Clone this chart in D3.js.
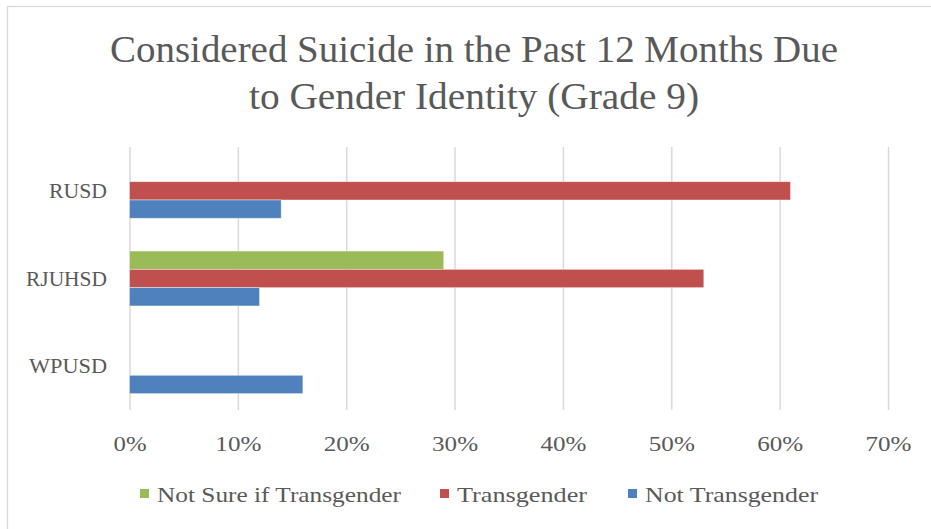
<!DOCTYPE html>
<html>
<head>
<meta charset="utf-8">
<script src="https://cdn.jsdelivr.net/npm/d3@7"></script>
<style>
  html, body { margin: 0; padding: 0; background: #ffffff; }
  svg { display: block; }
  text { font-family: "Liberation Serif", "DejaVu Serif", serif; fill: #595959; }
</style>
</head>
<body>
<svg id="chart" width="931" height="529"></svg>
<script>
const titleLines = ["Considered Suicide in the Past 12 Months Due", "to Gender Identity (Grade 9)"];
const categories = ["RUSD", "RJUHSD", "WPUSD"];
const seriesNames = ["Not Sure if Transgender", "Transgender", "Not Transgender"];
const seriesColors = ["#9BBB59", "#C0504D", "#4F81BD"];
const notSureValues = [null, 0.29, null];
const transgenderValues = [0.61, 0.53, null];
const notTransgenderValues = [0.14, 0.12, 0.16];
const tickValues = [0, 0.1, 0.2, 0.3, 0.4, 0.5, 0.6, 0.7];

const seriesValues = [notSureValues, transgenderValues, notTransgenderValues];

const svg = d3.select("#chart");
const W = 931, H = 529;

// Fit a text element to a target width (emulating the wider original font)
function fit(sel, w) {
  sel.attr("textLength", w).attr("lengthAdjust", "spacingAndGlyphs");
}

svg.append("rect").attr("x", 0).attr("y", 0).attr("width", W).attr("height", H).attr("fill", "#fff");
svg.append("rect").attr("x", 7.5).attr("y", 6.5).attr("width", W + 10).attr("height", H + 10)
  .attr("fill", "none").attr("stroke", "#d9d9d9").attr("stroke-width", 1.3);

// Title
const titleWidths = [728, 450];
const titleY = [62, 109];
titleLines.forEach((t, i) => {
  const el = svg.append("text")
    .attr("x", 474).attr("y", titleY[i])
    .attr("text-anchor", "middle")
    .attr("font-size", 37)
    .text(t);
  fit(el, titleWidths[i]);
});

const x = d3.scaleLinear().domain([0, 0.7]).range([129.5, 888]);
const y = d3.scaleBand().domain(categories).range([147, 410]).paddingInner(0).paddingOuter(0);
const barH = 18.3;
const groupH = barH * seriesNames.length;
const ySub = d3.scaleBand().domain(seriesNames).range([0, groupH]);

// Gridlines via axis
const gridAxis = d3.axisBottom(x).tickValues(tickValues).tickSize(-(410 - 147)).tickFormat("");
const grid = svg.append("g").attr("transform", "translate(0,410)").call(gridAxis);
grid.select(".domain").remove();
grid.selectAll(".tick line").attr("stroke", "#d9d9d9").attr("stroke-width", 1.5);

// Bars
seriesNames.forEach((s, si) => {
  svg.append("g").selectAll("rect")
    .data(categories.map((c, ci) => ({ c, v: seriesValues[si][ci] })).filter(d => d.v != null))
    .join("rect")
    .attr("x", x(0))
    .attr("y", d => y(d.c) + (y.bandwidth() - groupH) / 2 + ySub(s))
    .attr("width", d => x(d.v) - x(0))
    .attr("height", ySub.bandwidth())
    .attr("fill", seriesColors[si])
    .attr("stroke", "#ffffff").attr("stroke-opacity", 0.5).attr("stroke-width", 0.8);
});

// X axis labels
const xAxis = d3.axisBottom(x).tickValues(tickValues).tickSize(0).tickPadding(0)
  .tickFormat(d3.format(".0%"));
const xa = svg.append("g").attr("transform", "translate(0,451)").call(xAxis);
xa.select(".domain").remove();
xa.selectAll("text").attr("font-size", 22).attr("fill", "#595959")
  .attr("font-family", "Liberation Serif, DejaVu Serif, serif").attr("dy", 0)
  .each(function(d) { fit(d3.select(this), d === 0 ? 33 : 46); });

// Y axis labels
const yAxis = d3.axisLeft(y).tickSize(0).tickPadding(0);
const ya = svg.append("g").attr("transform", "translate(107,0)").call(yAxis);
ya.select(".domain").remove();
const catWidths = { "RUSD": 58, "RJUHSD": 81, "WPUSD": 78 };
ya.selectAll("text").attr("font-size", 22).attr("fill", "#595959")
  .attr("font-family", "Liberation Serif, DejaVu Serif, serif")
  .each(function(d) { fit(d3.select(this), catWidths[d]); });

// Legend
const legendX = [140, 440, 628];
const legendW = [244, 130, 173];
const legend = svg.append("g");
seriesNames.forEach((s, i) => {
  legend.append("rect").attr("x", legendX[i]).attr("y", 489).attr("width", 9).attr("height", 9)
    .attr("fill", seriesColors[i]);
  const el = legend.append("text").attr("x", legendX[i] + 17).attr("y", 502)
    .attr("font-size", 22).text(s);
  fit(el, legendW[i]);
});
</script>
</body>
</html>
